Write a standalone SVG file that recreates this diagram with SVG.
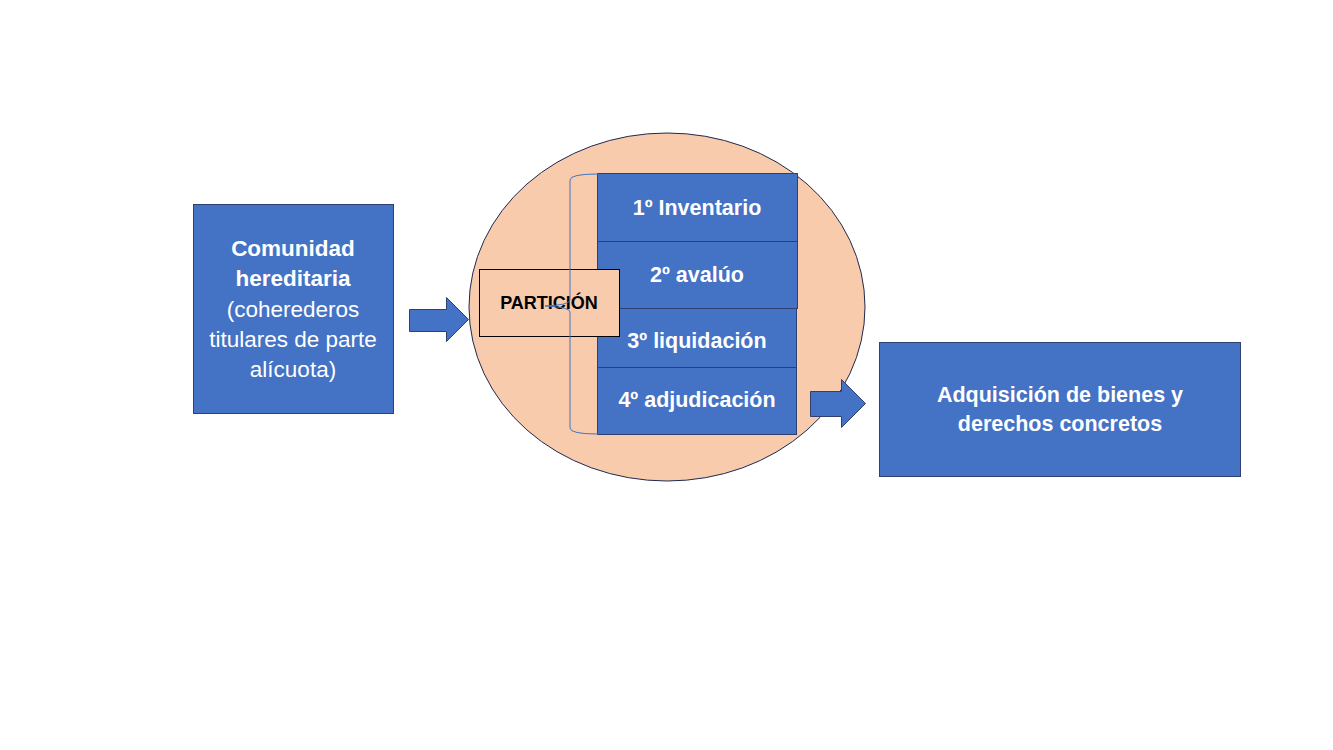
<svg xmlns="http://www.w3.org/2000/svg" width="1333" height="750" viewBox="0 0 1333 750">
<style>
.box{fill:#4472C4;stroke:#2F3F6F;stroke-width:1}
.arrow{fill:#4472C4;stroke:#2F3F6F;stroke-width:1}
.wt{font-family:"Liberation Sans",Arial,sans-serif;font-size:21.500px;fill:#FFFFFF;text-anchor:middle}
.b{font-weight:bold}
.bt{font-family:"Liberation Sans",Arial,sans-serif;font-size:18px;font-weight:bold;fill:#000000;text-anchor:middle}
</style>
<rect width="1333" height="750" fill="#FFFFFF"/>
<g id="circle">
<ellipse cx="667" cy="307" rx="198" ry="174" fill="#F8CBAD" stroke="#1F2A4F" stroke-width="1"/>
</g>
<g id="comunidad">
<rect class="box" x="193.500" y="204.500" width="200" height="209"/>
<text class="wt" style="font-size:22.500px" x="293" y="256"><tspan class="b" x="293" y="256">Comunidad</tspan><tspan class="b" x="293" y="286">hereditaria</tspan><tspan x="293" y="317">(coherederos</tspan><tspan x="293" y="347">titulares de parte</tspan><tspan x="293" y="377">alícuota)</tspan></text>
</g>
<g id="stage1">
<rect class="box" x="597.500" y="173.500" width="200" height="68"/>
<text class="wt b" x="697" y="215">1º Inventario</text>
</g>
<g id="stage2">
<rect class="box" x="597.500" y="241.500" width="200" height="67"/>
<text class="wt b" x="697" y="282">2º avalúo</text>
</g>
<g id="stage3">
<rect class="box" x="597.500" y="308.500" width="199" height="59"/>
<text class="wt b" x="697" y="348">3º liquidación</text>
</g>
<g id="stage4">
<rect class="box" x="597.500" y="367.500" width="199" height="67"/>
<text class="wt b" x="697" y="407">4º adjudicación</text>
</g>
<g id="particion">
<rect x="479.500" y="269.500" width="140" height="67" fill="#F8CBAD" stroke="#000000" stroke-width="1"/>
<text class="bt" x="549" y="309">PARTICIÓN</text>
</g>
<g id="connectors">
<path d="M598,174 Q570,174 570,180 L570,300 Q570,305 545,306 Q570,307 570,312 L570,428 Q570,434 598,434" fill="none" stroke="#4472C4" stroke-width="1"/>
<polygon class="arrow" points="409.500,309.500 446.500,309.500 446.500,297.500 468.500,319.500 446.500,341.500 446.500,331.500 409.500,331.500"/>
<polygon class="arrow" points="810.500,391.500 841.500,391.500 841.500,379.500 865.500,403.500 841.500,427.500 841.500,416.500 810.500,416.500"/>
</g>
<g id="adquisicion">
<rect class="box" x="879.500" y="342.500" width="361" height="134"/>
<text class="wt b" x="1060" y="402">Adquisición de bienes y</text>
<text class="wt b" x="1060" y="431">derechos concretos</text>
</g>
</svg>
